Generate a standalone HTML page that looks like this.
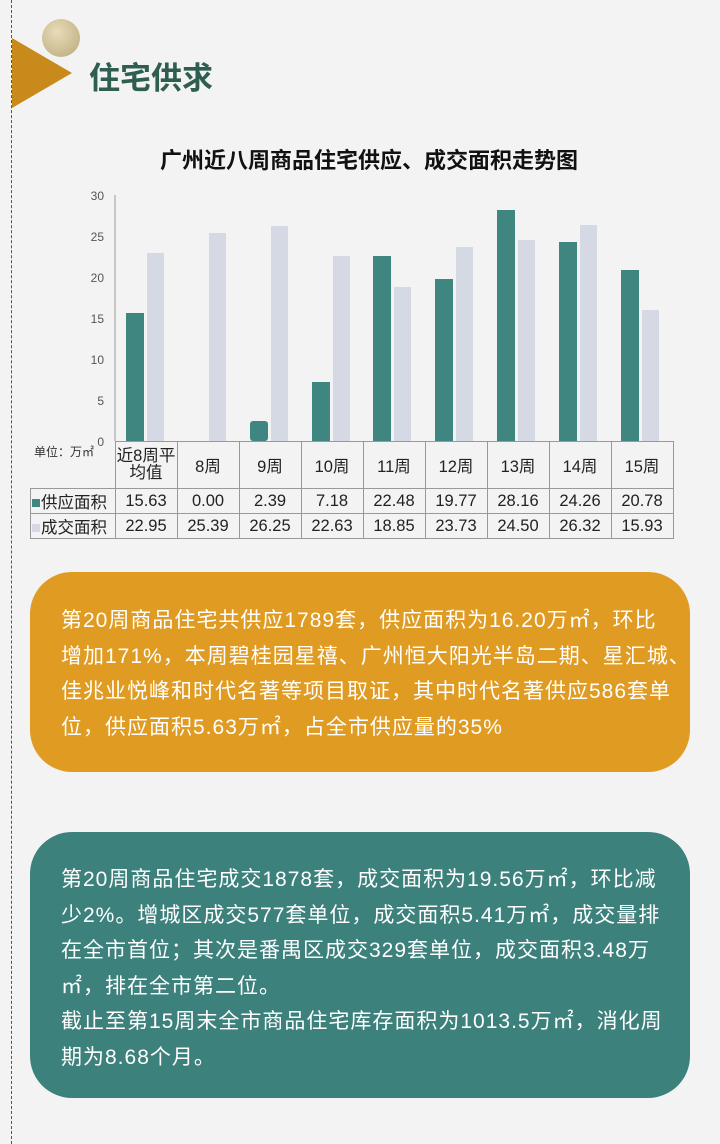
<!DOCTYPE html>
<html><head><meta charset="utf-8"><style>
body{margin:0;width:720px;height:1144px;background:#f3f3f3;position:relative;overflow:hidden;font-family:"Liberation Sans","Noto Sans CJK SC",sans-serif}
.abs{position:absolute}
.box{position:absolute;left:30px;width:660px;border-radius:42px;color:#fff;font-size:21px;letter-spacing:1px;line-height:35.5px;box-sizing:border-box;padding:0 0 0 31px;white-space:nowrap}
td{border:1px solid #999;text-align:center;font-size:16.5px;padding:0;color:#222}
</style></head><body>
<div class="abs" style="left:11px;top:0;height:1144px;border-left:1px dashed #555"></div>
<div class="abs" style="left:42px;top:19px;width:38px;height:38px;border-radius:50%;background:radial-gradient(circle at 40% 35%,#e8dcb8,#b9a878)"></div>
<div class="abs" style="left:12px;top:38px;width:0;height:0;border-top:35px solid transparent;border-bottom:35px solid transparent;border-left:60px solid #c98a1c"></div>
<div class="abs" style="left:89px;top:53px;font-size:31px;font-weight:bold;color:#2e5e50">住宅供求</div>
<div class="abs" style="left:160px;top:143px;font-size:22px;font-weight:bold;color:#111">广州近八周商品住宅供应、成交面积走势图</div>
<svg class="abs" style="left:0;top:0" width="720" height="560">
<g font-size="12" fill="#555" text-anchor="end" font-family="Liberation Sans">
<text x="104" y="200">30</text><text x="104" y="241">25</text><text x="104" y="282">20</text><text x="104" y="323">15</text><text x="104" y="364">10</text><text x="104" y="405">5</text><text x="104" y="446">0</text></g>
<line x1="115" y1="195" x2="115" y2="441" stroke="#999"/>
<g fill="#3f8580">
<rect x="126" y="313" width="18" height="128"/><rect x="250" y="421" width="18" height="20" rx="3"/><rect x="312" y="382" width="18" height="59"/><rect x="373" y="256" width="18" height="185"/><rect x="435" y="279" width="18" height="162"/><rect x="497" y="210" width="18" height="231"/><rect x="559" y="242" width="18" height="199"/><rect x="621" y="270" width="18" height="171"/></g>
<g fill="#d5d9e3">
<rect x="147" y="253" width="17" height="188"/><rect x="209" y="233" width="17" height="208"/><rect x="271" y="226" width="17" height="215"/><rect x="333" y="256" width="17" height="185"/><rect x="394" y="287" width="17" height="154"/><rect x="456" y="247" width="17" height="194"/><rect x="518" y="240" width="17" height="201"/><rect x="580" y="225" width="17" height="216"/><rect x="642" y="310" width="17" height="131"/></g>
</svg>
<div class="abs" style="left:34px;top:443px;font-size:12px;color:#333">单位：万㎡</div>
<table class="abs" style="left:30px;top:441px;border-collapse:collapse;table-layout:fixed">
<tr style="height:47px"><td style="border:none;border-right:1px solid #999;width:84px"></td><td style="width:61px;line-height:17px">近8周平<br>均值</td><td style="width:61px">8周</td><td style="width:61px">9周</td><td style="width:61px">10周</td><td style="width:61px">11周</td><td style="width:61px">12周</td><td style="width:61px">13周</td><td style="width:61px">14周</td><td style="width:61px">15周</td></tr>
<tr style="height:23px"><td style="text-align:left"><span style="color:#3f8580">■</span>供应面积</td><td>15.63</td><td>0.00</td><td>2.39</td><td>7.18</td><td>22.48</td><td>19.77</td><td>28.16</td><td>24.26</td><td>20.78</td></tr>
<tr style="height:23px"><td style="text-align:left"><span style="color:#d5d9e3">■</span>成交面积</td><td>22.95</td><td>25.39</td><td>26.25</td><td>22.63</td><td>18.85</td><td>23.73</td><td>24.50</td><td>26.32</td><td>15.93</td></tr>
</table>
<div class="box" style="top:572px;height:200px;background:#e09b22;padding-top:31px">第20周商品住宅共供应1789套，供应面积为16.20万㎡，环比<br>增加171%，本周碧桂园星禧、广州恒大阳光半岛二期、星汇城、<br>佳兆业悦峰和时代名著等项目取证，其中时代名著供应586套单<br>位，供应面积5.63万㎡，占全市供应量的35%</div>
<div class="box" style="top:832px;height:266px;background:#3d817c;padding-top:30px">第20周商品住宅成交1878套，成交面积为19.56万㎡，环比减<br>少2%。增城区成交577套单位，成交面积5.41万㎡，成交量排<br>在全市首位；其次是番禺区成交329套单位，成交面积3.48万<br>㎡，排在全市第二位。<br>截止至第15周末全市商品住宅库存面积为1013.5万㎡，消化周<br>期为8.68个月。</div>
</body></html>
